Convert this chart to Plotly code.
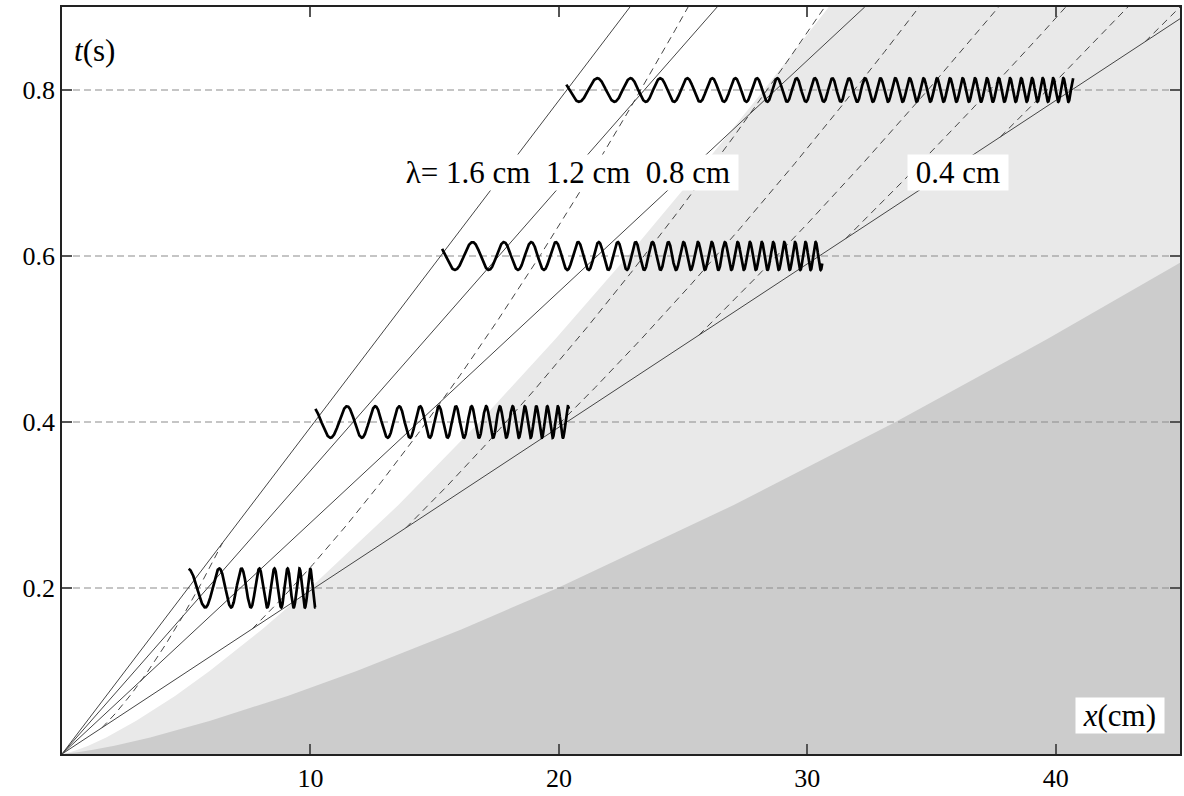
import numpy as np
import plotly.graph_objects as go

# ---------------- data ----------------
X_MAX = 45.0
T_MAX = 0.9
x_tick_vals = [10, 20, 30, 40]
t_tick_vals = [0.2, 0.4, 0.6, 0.8]
t_tick_text = ["0.2", "0.4", "0.6", "0.8"]

# group-velocity rays (solid lines), one per wavelength
wavelength_labels = ["1.6 cm", "1.2 cm", "0.8 cm", "0.4 cm"]
group_speed = [25.4, 29.3, 35.9, 50.8]          # cm/s

# crest trajectories (dashed): x where each crest line reaches t = 0.9
crest_x_top = [15.0, 25.2, 30.7, 34.5, 37.7, 40.4, 42.9, 45.0]

# wave packets drawn at these times
packet_t = [0.2, 0.4, 0.6, 0.8]
packet_x_start = [5.1, 10.2, 15.3, 20.3]
packet_x_end = [10.2, 20.4, 30.6, 40.7]
packet_amp = [0.0235, 0.019, 0.0168, 0.0142]
sigma = 73.0        # surface tension / density (cm^3/s^2)
phase0 = 0.3

# shaded regions (boundary curves)
light_edge_t = [0, 0.002, 0.005, 0.01, 0.02, 0.04, 0.07, 0.1, 0.15, 0.2,
                0.3, 0.4, 0.5, 0.6, 0.7, 0.8, 0.9]
light_edge_x = [0, 0.32, 0.63, 1.06, 1.78, 2.99, 4.55, 5.94, 8.05, 9.99,
                13.54, 16.80, 19.86, 22.77, 25.56, 28.25, 30.86]
dark_edge_t = [0, 0.002, 0.005, 0.01, 0.02, 0.04, 0.07, 0.1, 0.15, 0.2,
               0.3, 0.4, 0.5, 0.592]
dark_edge_x = [0, 0.63, 1.25, 2.11, 3.55, 5.97, 9.08, 11.86, 16.07, 19.95,
               27.04, 33.55, 39.66, 45.0]

FONT = "Liberation Serif"
LINE_COL = "#454545"

fig = go.Figure()

# light gray region
fig.add_trace(go.Scatter(
    x=light_edge_x + [X_MAX, X_MAX, 0], y=light_edge_t + [T_MAX, 0, 0],
    fill="toself", fillcolor="#e9e9e9", mode="none", hoverinfo="skip", showlegend=False))
# dark gray region
fig.add_trace(go.Scatter(
    x=dark_edge_x + [X_MAX, 0], y=dark_edge_t + [0, 0],
    fill="toself", fillcolor="#cccccc", mode="none", hoverinfo="skip", showlegend=False))

# horizontal dashed grid lines
for tv in t_tick_vals:
    fig.add_trace(go.Scatter(x=[0, X_MAX], y=[tv, tv], mode="lines",
                             line=dict(color="#8c8c8c", width=1.2, dash="7px,4px"),
                             hoverinfo="skip", showlegend=False))

# group-velocity rays
for v in group_speed:
    t_end = min(T_MAX, X_MAX / v)
    fig.add_trace(go.Scatter(x=[0, v * t_end], y=[0, t_end], mode="lines",
                             line=dict(color=LINE_COL, width=1),
                             hoverinfo="skip", showlegend=False))

# crest trajectories x = C t^(2/3), kept between the slowest and fastest rays
v_lo, v_hi = min(group_speed), max(group_speed)
for xt in crest_x_top:
    C = xt / T_MAX ** (2.0 / 3.0)
    t0 = (C / v_hi) ** 3
    t1 = min(T_MAX, (C / v_lo) ** 3)
    if t0 >= t1:
        continue
    tt = np.linspace(t0, t1, 300)
    xx = C * tt ** (2.0 / 3.0)
    m = xx <= X_MAX
    fig.add_trace(go.Scatter(x=xx[m], y=tt[m], mode="lines",
                             line=dict(color=LINE_COL, width=1, dash="7px,5px"),
                             hoverinfo="skip", showlegend=False))

# wave packets
for tp, xs, xe, amp in zip(packet_t, packet_x_start, packet_x_end, packet_amp):
    xx = np.linspace(xs, xe, 3000)
    phase = 4.0 * xx ** 3 / (27.0 * sigma * tp ** 2)
    fig.add_trace(go.Scatter(x=xx, y=tp + amp * np.cos(phase - phase0), mode="lines",
                             line=dict(color="black", width=2.7),
                             hoverinfo="skip", showlegend=False))

# labels
ann_font = dict(family=FONT, size=31, color="black")
sp = "\u00a0"
fig.add_annotation(xref="x", yref="y", x=0.42, y=0.848, text="<i>t</i>(s)",
                   showarrow=False, font=ann_font, xanchor="left")
fig.add_annotation(xref="x", yref="y", x=42.6, y=0.046, text=sp + "<i>x</i>(cm)" + sp,
                   showarrow=False, font=ann_font, bgcolor="white", borderpad=0)
lam_text = "\u03bb= 1.6 cm" + sp * 2 + "1.2 cm" + sp * 2 + "0.8 cm"
fig.add_annotation(xref="x", yref="y", x=20.35, y=0.701, text=sp + lam_text + sp,
                   showarrow=False, font=ann_font, bgcolor="white", borderpad=0)
fig.add_annotation(xref="x", yref="y", x=36.07, y=0.701, text=sp + "0.4 cm" + sp,
                   showarrow=False, font=ann_font, bgcolor="white", borderpad=0)

axis_common = dict(showgrid=False, zeroline=False, showline=True, linecolor="#222222",
                   linewidth=1.5, mirror="ticks", ticks="inside", ticklen=10,
                   tickwidth=1.5, tickcolor="#555555",
                   tickfont=dict(family=FONT, size=26, color="black"))
fig.update_xaxes(range=[0, X_MAX], tickvals=x_tick_vals, **axis_common)
fig.update_yaxes(range=[0, T_MAX], tickvals=t_tick_vals, ticktext=t_tick_text, **axis_common)

fig.update_layout(width=1184, height=796, margin=dict(l=62, r=2, t=7, b=42),
                  plot_bgcolor="white", paper_bgcolor="white", showlegend=False)

fig.write_html("out.html")
